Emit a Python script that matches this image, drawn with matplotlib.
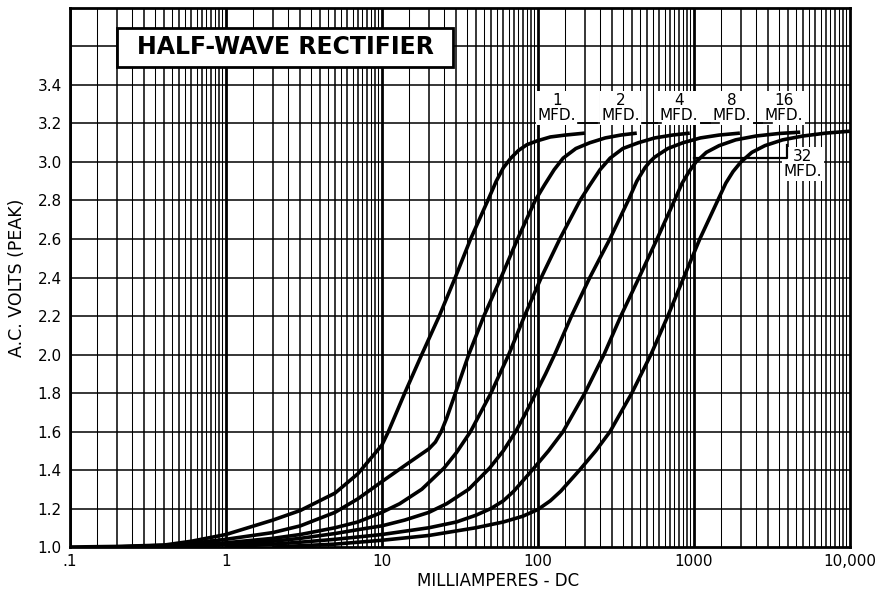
import numpy as np
import matplotlib.pyplot as plt
from matplotlib.patches import Rectangle

# readings: milliamperes DC vs a.c. volts (peak)
ma_1 = [0.1, 0.2, 0.4, 0.6, 1, 2, 3, 5, 7, 10, 11, 14, 18, 23.3, 29.5, 37, 47.7, 54, 60, 67, 75, 85, 99, 120, 150, 200]
v_1 = [1.0, 1.003, 1.01, 1.03, 1.065, 1.14, 1.19, 1.28, 1.38, 1.53, 1.6, 1.8, 2.0, 2.2, 2.4, 2.6, 2.8, 2.9, 2.97, 3.02, 3.06, 3.09, 3.11, 3.13, 3.14, 3.15]

ma_2 = [0.2, 0.5, 1, 2, 3, 5, 7, 10, 15, 20, 22, 24, 26, 29, 36, 45, 58, 74, 96, 110, 127, 145, 175, 215, 270, 340, 430]
v_2 = [1.0, 1.012, 1.04, 1.075, 1.11, 1.18, 1.25, 1.34, 1.44, 1.51, 1.545, 1.6, 1.67, 1.78, 2.0, 2.2, 2.4, 2.6, 2.8, 2.88, 2.96, 3.02, 3.07, 3.1, 3.125, 3.14, 3.15]

ma_4 = [0.3, 1, 2, 3, 5, 7, 10, 13, 18, 25, 30, 37, 43, 50, 57, 65, 82, 105, 138, 186, 215, 250, 290, 350, 440, 560, 730, 940]
v_4 = [1.0, 1.022, 1.045, 1.065, 1.1, 1.13, 1.18, 1.225, 1.3, 1.41, 1.49, 1.6, 1.7, 1.8, 1.9, 2.0, 2.2, 2.4, 2.6, 2.8, 2.88, 2.96, 3.02, 3.07, 3.1, 3.125, 3.14, 3.15]

ma_8 = [0.5, 1, 2, 3, 5, 7, 10, 14, 20, 26, 36, 49, 60, 72, 84, 97, 112, 128, 164, 215, 289, 379, 430, 485, 520, 560, 680, 850, 1100, 1450, 1970]
v_8 = [1.0, 1.012, 1.03, 1.045, 1.07, 1.09, 1.11, 1.14, 1.18, 1.225, 1.3, 1.41, 1.5, 1.6, 1.7, 1.8, 1.9, 2.0, 2.2, 2.4, 2.6, 2.8, 2.9, 2.97, 3.0, 3.025, 3.07, 3.1, 3.125, 3.14, 3.15]

ma_16 = [1, 2, 3, 5, 10, 20, 30, 40, 50, 60, 70, 92, 117, 145, 200, 265, 340, 445, 580, 750, 840, 930, 1030, 1200, 1450, 1850, 2500, 3500, 4800]
v_16 = [1.0, 1.015, 1.025, 1.04, 1.065, 1.1, 1.13, 1.165, 1.2, 1.24, 1.29, 1.4, 1.5, 1.6, 1.8, 2.0, 2.2, 2.4, 2.6, 2.8, 2.89, 2.95, 3.0, 3.05, 3.085, 3.115, 3.135, 3.148, 3.155]

ma_32 = [2, 5, 10, 20, 40, 60, 80, 100, 120, 140, 185, 235, 290, 400, 530, 680, 860, 1090, 1420, 1600, 1780, 2000, 2350, 2850, 3700, 5000, 7000, 10000]
v_32 = [1.0, 1.015, 1.035, 1.06, 1.1, 1.13, 1.16, 1.195, 1.24, 1.29, 1.4, 1.5, 1.6, 1.8, 2.0, 2.2, 2.4, 2.6, 2.8, 2.89, 2.95, 3.0, 3.05, 3.085, 3.115, 3.135, 3.15, 3.16]

x_ticks = [0.1, 1, 10, 100, 1000, 10000]
x_tick_labels = ['.1', '1', '10', '100', '1000', '10,000']
y_ticks = [1.0, 1.2, 1.4, 1.6, 1.8, 2.0, 2.2, 2.4, 2.6, 2.8, 3.0, 3.2, 3.4]

fig = plt.figure(figsize=(8.96, 5.92), dpi=100)
ax = fig.add_axes([0.0781, 0.076, 0.8705, 0.9105])
ax.set_xscale('log')
ax.set_xlim(0.1, 10000)
ax.set_ylim(1.0, 3.8)

# log paper grid: decade lines heavy, integers medium, halves thin
for dec in [0.1, 1, 10, 100, 1000]:
    for m in np.arange(1, 10, 0.5):
        if m == 1:
            lw = 2.0
        elif m == int(m):
            lw = 1.1
        else:
            lw = 0.75
        ax.axvline(dec * m, color='black', lw=lw, zorder=1)
for yv in np.arange(1.2, 3.81, 0.2):
    ax.axhline(yv, color='black', lw=1.1, zorder=1)

# the six capacitor curves
for xs, ys in [(ma_1, v_1), (ma_2, v_2), (ma_4, v_4), (ma_8, v_8), (ma_16, v_16), (ma_32, v_32)]:
    ax.plot(xs, ys, color='black', lw=2.6, solid_joinstyle='round', solid_capstyle='butt', zorder=3)

# curve labels
lab_box = dict(facecolor='white', edgecolor='none', pad=1.0)
for txt, xl in [('1', 132), ('2', 340), ('4', 802), ('8', 1755), ('16', 3776)]:
    ax.text(xl, 3.28, txt + '\nMFD.', ha='center', va='center', fontsize=11,
            linespacing=1.05, bbox=lab_box, zorder=4)
for xl in [132, 340, 802, 1755]:
    ax.plot([xl * 10 ** (22 / 156), xl * 10 ** (40 / 156)], [3.205, 3.205],
            color='black', lw=1.2, zorder=4)
ax.text(5000, 2.99, '32\nMFD.', ha='center', va='center', fontsize=11,
        linespacing=1.05, bbox=lab_box, zorder=4)
ax.plot([1000, 3950, 3950], [3.02, 3.02, 3.09], color='black', lw=1.6, zorder=4)

# title box
ax.add_patch(Rectangle((0.060, 0.8905), 0.431, 0.0725, transform=ax.transAxes,
                       facecolor='white', edgecolor='black', lw=2.0, zorder=5))
ax.text(0.2757, 0.927, 'HALF-WAVE RECTIFIER', transform=ax.transAxes,
        ha='center', va='center', fontsize=17, fontweight='bold', zorder=6)

ax.set_xticks(x_ticks)
ax.set_xticklabels(x_tick_labels, fontsize=11)
ax.xaxis.set_minor_locator(plt.NullLocator())
ax.set_yticks(y_ticks)
ax.set_yticklabels(['%.1f' % v for v in y_ticks], fontsize=11)
ax.tick_params(axis='both', length=0)
ax.tick_params(axis='x', pad=5)
ax.tick_params(axis='y', pad=6)

ax.set_xlabel('MILLIAMPERES - DC', fontsize=12, va='center')
ax.xaxis.set_label_coords(0.549, -0.063)
ax.set_ylabel('A.C. VOLTS (PEAK)', fontsize=12.5, va='center')
ax.yaxis.set_label_coords(-0.068, 0.5)

for s in ax.spines.values():
    s.set_linewidth(2.0)
    s.set_zorder(7)

fig.savefig('out.png', dpi=100)
